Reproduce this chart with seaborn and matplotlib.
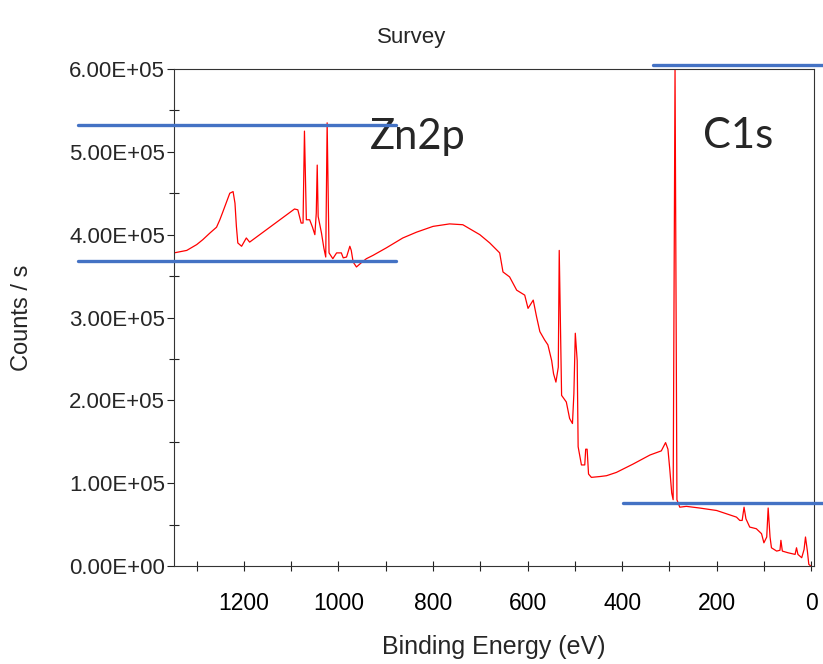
import matplotlib
matplotlib.use("Agg")
import matplotlib.pyplot as plt
import seaborn as sns
import pandas as pd
from matplotlib.ticker import MultipleLocator, FuncFormatter
from matplotlib.lines import Line2D

# ---- data ----
energy_ev = [1348, 1321, 1300, 1287, 1272, 1258, 1251, 1245, 1230, 1223, 1219, 1216, 1213, 1205,
             1195, 1188, 1093, 1086, 1079, 1075, 1072, 1068, 1061, 1055, 1050, 1047, 1045, 1043,
             1036, 1031, 1027, 1024, 1020, 1012, 1004, 994, 990, 983, 976, 973, 969, 962, 952,
             941, 927, 899, 864, 835, 800, 765, 737, 719, 701, 680, 659, 652, 638, 623, 606,
             599, 588, 581, 574, 564, 557, 549, 545, 540, 535, 533, 528, 518, 511, 505, 502,
             499, 495, 493, 486, 479, 477, 474, 471, 465, 447, 433, 412, 391, 377, 341, 317,
             308, 303, 299, 295, 292, 288, 284, 278, 264, 236, 200, 179, 158, 151, 146, 142,
             138, 130, 116, 105, 100, 94, 91, 87, 84, 73, 66, 64, 61, 49, 34, 31, 28, 20, 15,
             12, 8, 5, 1]
counts_k = [378, 381, 388, 394, 402, 409, 418, 427, 450, 452, 438, 410, 390, 386,
            396, 391, 431, 430, 414, 414, 525, 418, 418, 409, 400, 426, 484, 422,
            402, 384, 373, 535, 378, 371, 378, 378, 372, 373, 386, 381, 367, 361, 366,
            371, 375, 384, 396, 403, 410, 413, 412, 406, 400, 390, 378, 355, 349, 333, 327,
            311, 321, 301, 283, 273, 267, 248, 232, 222, 240, 381, 206, 198, 178, 172, 208,
            281, 248, 144, 122, 122, 141, 141, 111, 107, 108, 109, 113, 119, 123, 134, 139,
            149, 141, 116, 88, 80, 600, 80, 71, 72, 70, 67, 63, 59, 55, 55, 71,
            57, 47, 45, 39, 28, 35, 70, 35, 22, 18, 19, 31, 18, 16, 14, 22, 14, 10, 20,
            35, 18, 2, 0]
x_ticks = [1200, 1000, 800, 600, 400, 200, 0]
y_ticks = [0, 100000, 200000, 300000, 400000, 500000, 600000]

title_text = "Survey"
x_label = "Binding Energy (eV)"
y_label = "Counts / s"
annotations = ["Zn2p", "C1s"]

df = pd.DataFrame({"energy": energy_ev, "counts": [c * 1000 for c in counts_k]})

sns.set_theme(style="ticks")
plt.rcParams["font.family"] = ["Liberation Sans", "DejaVu Sans"]

W, H = 823, 664
fig = plt.figure(figsize=(W / 100, H / 100), dpi=100)
ax = fig.add_axes([174 / W, 1 - 566 / H, 640 / W, 497 / H])

sns.lineplot(data=df, x="energy", y="counts", ax=ax, color="#FF0000",
             linewidth=0.9, sort=False, estimator=None)

ax.set_xlim(1348, -6)
ax.set_ylim(0, 600000)
ax.set_xticks(x_ticks)
ax.xaxis.set_minor_locator(MultipleLocator(100))
ax.set_yticks(y_ticks)
ax.yaxis.set_minor_locator(MultipleLocator(50000))
ax.yaxis.set_major_formatter(FuncFormatter(lambda v, p: f"{v:.2E}"))

for s in ax.spines.values():
    s.set_visible(True)
    s.set_color("#333333")
    s.set_linewidth(0.8)

ax.tick_params(axis="x", which="both", direction="inout", length=7, width=0.8,
               color="#222222", bottom=True, top=False)
ax.tick_params(axis="x", which="major", labelsize=16.5, pad=15, labelcolor="black")
ax.tick_params(axis="y", which="major", direction="out", length=5, width=0.8,
               color="#222222", labelsize=16, pad=1.5, left=True)
ax.tick_params(axis="y", which="minor", direction="inout", length=7, width=0.8,
               color="#222222", left=True)

ax.set_xlabel(x_label, fontsize=18, va="center")
ax.xaxis.set_label_coords(0.5, (566 - 647) / 497)
ax.set_ylabel(y_label, fontsize=17, va="center")
ax.yaxis.set_label_coords((22 - 174) / 640, 0.5)

fig.text(412 / W, 1 - 37 / H, title_text, ha="center", va="center", fontsize=16)

fig.text(370 / W, 1 - 149 / H, annotations[0], ha="left", va="baseline",
         fontsize=30, family=["Lato", "DejaVu Sans"], zorder=3)
fig.text(703 / W, 1 - 148 / H, annotations[1], ha="left", va="baseline",
         fontsize=30, family=["Lato", "DejaVu Sans"], zorder=3)

blue = "#4472C4"
for (x0, x1, yy) in [(78, 396, 125), (78, 396, 261), (653, 823, 65), (623, 823, 503)]:
    fig.add_artist(Line2D([x0 / W, x1 / W], [1 - yy / H, 1 - yy / H],
                          transform=fig.transFigure, color=blue, linewidth=2.4, zorder=4))

fig.savefig("out.png", dpi=100)
